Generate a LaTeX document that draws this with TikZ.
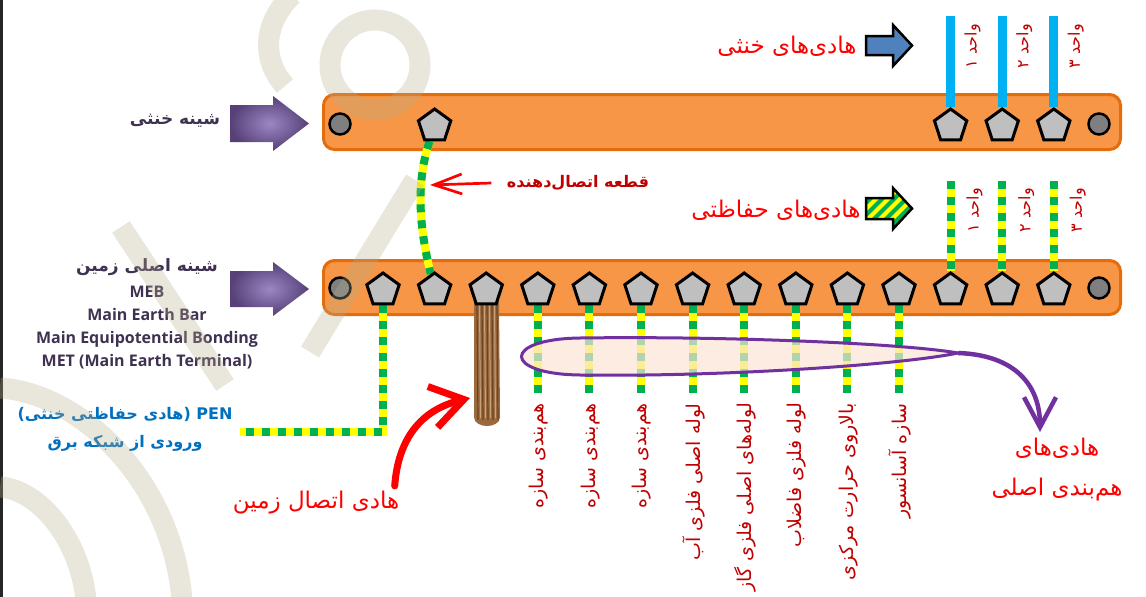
\documentclass[tikz,border=0pt]{standalone}
\usepackage{fontspec}
\setsansfont{Open Sans}
\newfontfamily\fa[Script=Arabic]{DejaVu Sans}
\TeXXeTstate=1
\usetikzlibrary{arrows.meta,shapes.geometric}

\definecolor{barfill}{HTML}{F79646}
\definecolor{barline}{HTML}{E46C0A}
\definecolor{termgray}{HTML}{BFBFBF}
\definecolor{studgray}{HTML}{7F7F7F}
\definecolor{pegreen}{HTML}{00B050}
\definecolor{peyellow}{HTML}{FFFF00}
\definecolor{nblue}{HTML}{00B0F0}
\definecolor{arrowblue}{HTML}{4F81BD}
\definecolor{darkred}{HTML}{C00000}
\definecolor{labelink}{HTML}{3F3151}
\definecolor{penblue}{HTML}{0070C0}
\definecolor{bondpurple}{HTML}{7030A0}
\definecolor{bondfill}{HTML}{FCE4D6}
\definecolor{arrowdark}{HTML}{574078}
\definecolor{arrowlight}{HTML}{9B87C4}
\definecolor{cablebrown}{HTML}{9A6A3E}
\definecolor{cabledark}{HTML}{6B4424}
\definecolor{cablelight}{HTML}{C9A27A}
\definecolor{wmcolor}{HTML}{B8AE8C}

\pgfdeclarelayer{back}
\pgfdeclarelayer{front}
\pgfsetlayers{back,main,front}

\tikzset{
  bar/.style={draw=barline,fill=barfill,line width=3pt,rounded corners=11pt},
  term/.style={regular polygon,regular polygon sides=5,draw=black,fill=termgray,
    line width=3pt,inner sep=0pt,minimum size=34pt},
  stud/.style={circle,draw=black,fill=studgray,line width=2.5pt,inner sep=0pt,minimum size=21pt},
  nwire/.style={draw=nblue,line width=9pt},
  pewire/.style={draw=peyellow,line width=8pt,
    postaction={draw=pegreen,line width=8pt,dash pattern=on 8pt off 8pt}},
  redtext/.style={text=red,font=\fa\fontsize{23}{40}\selectfont,align=center},
  barname/.style={text=labelink,font=\fa\bfseries\fontsize{17}{20}\selectfont},
  unitname/.style={rotate=90,anchor=east,inner sep=0pt,text=darkred,font=\fa\fontsize{16}{18}\selectfont},
  bondname/.style={rotate=90,anchor=east,inner sep=0pt,text=darkred,font=\fa\fontsize{19}{22}\selectfont},
  wmark/.style={draw=wmcolor,draw opacity=.3,line width=21pt},
}

\begin{document}
\begin{tikzpicture}[x=1pt,y=-1pt]
\useasboundingbox (0,0) rectangle (1146,597);

\foreach \k in {1,...,14}
  \node[term] (pe\k) at ({383+51.6*(\k-1)},290) {};
\foreach \k in {2,12,13,14}
  \node[term] (nt\k) at ({383+51.6*(\k-1)},126) {};
\node[stud] (ns1) at (340,124) {};
\node[stud] (ns2) at (1099,124) {};
\node[stud] (ps1) at (340,288) {};
\node[stud] (ps2) at (1099,288) {};

\coordinate (nwtop) at (0,16);
\coordinate (pwtop) at (0,181);
\coordinate (bondlvl) at (0,393);
\coordinate (penend) at (240,432);

\begin{pgfonlayer}{back}
  \fill[white] (0,0) rectangle (1146,597);
  \fill[black!85] (0,0) rectangle (3,597);
  \draw[bar] (323.5,94.5) rectangle (1120.5,149.5);
  \draw[bar] (323.5,260.5) rectangle (1120.5,314.5);
  \foreach \k in {12,13,14} {
    \draw[nwire] (nt\k |- nwtop) -- (nt\k);
    \draw[pewire] (pe\k |- pwtop) -- (pe\k);
  }
  \foreach \k in {4,...,11}
    \draw[pewire] (pe\k) -- (pe\k |- bondlvl);
  \draw[pewire] (pe1) |- (penend);
  \draw[pewire] (nt2) .. controls (415,185) and (420,230) .. (pe2);
  % stranded earth lead
  \fill[cablebrown] (474,302) -- (499,302) -- (500,417) .. controls (500,429) and (474,429) .. (474,417) -- cycle;
  \foreach \x in {477,482,487,492,497}
    \draw[cabledark,line width=1.2pt] (\x,304) -- (\x+1,420);
  \foreach \x in {479.5,484.5,489.5,494.5}
    \draw[cablelight,line width=1pt] (\x,304) -- (\x+1,418);
\end{pgfonlayer}

% bonding group
\draw[bondpurple,line width=3pt,fill=bondfill,fill opacity=.7]
  (958,353) .. controls (900,343) and (720,336) .. (580,338)
  .. controls (502,339) and (502,374) .. (580,375)
  .. controls (720,377) and (900,365) .. (958,353);
\coordinate (bondtail) at (958,353);
\coordinate (bondtip) at (1040,432);
\draw[bondpurple,line width=4.5pt,-{Straight Barb[length=30pt,width=32pt]}]
  (bondtail) .. controls (1015,355) and (1040,385) .. (bondtip);
\node[redtext] (bondhead) at (1057,470) {\beginR هادی^^^^200cهای\endR\\\beginR هم^^^^200cبندی اصلی\endR};

% bar arrows
\shade[inner color=arrowlight,outer color=arrowdark]
  (230,105) -- (273,105) -- (273,96) -- (309,123.5) -- (273,151) -- (273,142) -- (230,142) -- cycle;
\shade[inner color=arrowlight,outer color=arrowdark]
  (230,271) -- (273,271) -- (273,262) -- (309,289) -- (273,316) -- (273,307) -- (230,307) -- cycle;
\node[barname] (neutname) at (175,121) {\beginR شینه خنثی\endR};
\node[barname] (mebname) at (147,267) {\beginR شینه اصلی زمین\endR};
\node[text=labelink,font=\sffamily\bfseries\fontsize{16}{23}\selectfont,align=center] (mebterms) at (147,328)
  {MEB\\Main Earth Bar\\Main Equipotential Bonding\\MET (Main Earth Terminal)};
\node[text=penblue,font=\fa\bfseries\fontsize{16}{28}\selectfont,align=center] (penname) at (125,429)
  {\beginR\beginL PEN\endL{} (هادی حفاظتی خنثی)\endR\\\beginR ورودی از شبکه برق\endR};

% outgoing conductors
\draw[line width=2.5pt,fill=arrowblue]
  (866,36) -- (893,36) -- (893,25) -- (912,45.5) -- (893,66) -- (893,55) -- (866,55) -- cycle;
\draw[line width=2.5pt,fill=pegreen,path picture={
    \foreach \s in {0,...,7} \draw[peyellow,line width=4pt] ({840+12*\s},235) -- ++(50,-50);}]
  (866,198) -- (893,198) -- (893,188) -- (912,208.5) -- (893,229) -- (893,219) -- (866,219) -- cycle;
\node[redtext] (nname) at (787,46) {\beginR هادی^^^^200cهای خنثی\endR};
\node[redtext] (pname) at (776,210) {\beginR هادی^^^^200cهای حفاظتی\endR};
\foreach \k/\d in {12/۱,13/۲,14/۳} {
  \node[unitname] (nu\k) at ({383+51.6*(\k-1)+22},24) {\beginR واحد \d\endR};
  \node[unitname] (pu\k) at ({383+51.6*(\k-1)+24},188) {\beginR واحد \d\endR};
}

\node[text=darkred,font=\fa\bfseries\fontsize{16}{20}\selectfont] (joinlabel) at (578,183)
  {\beginR قطعه اتصال^^^^200cدهنده\endR};
\coordinate (jointip) at (430,185);
\draw[red,line width=2.7pt,-{Straight Barb[length=28pt,width=20pt]}] ([xshift=-12pt]joinlabel.west) -- (jointip);

\node[redtext] (earthlabel) at (316,503) {\beginR هادی اتصال زمین\endR};
\coordinate (earthtip) at (470,398);
\draw[red,line width=7pt,line cap=round,-{Straight Barb[length=32pt,width=42pt]}]
  ([xshift=-8pt,yshift=2pt]earthlabel.north east) .. controls (398,440) and (420,410) .. (earthtip);

\foreach \k/\txt in {4/{هم^^^^200cبندی سازه},5/{هم^^^^200cبندی سازه},6/{هم^^^^200cبندی سازه},
    7/{لوله اصلی فلزی آب},8/{لوله^^^^200cهای اصلی فلزی گاز},9/{لوله فلزی فاضلاب},
    10/{بالاروی حرارت مرکزی},11/{سازه آسانسور}}
  \node[bondname] (bn\k) at ({383+51.6*(\k-1)+1},403) {\beginR\txt\endR};

\begin{pgfonlayer}{front}
  \draw[wmark] (292,-5) .. controls (262,25) and (262,60) .. (285,86);
  \draw[wmark] (375,65) circle [radius=45];
  \draw[wmark] (121,227) -- (225,385);
  \draw[wmark] (415,180) -- (310,352);
  \draw[wmark] (0,388) .. controls (80,393) and (172,480) .. (182,600);
  \draw[wmark] (0,487) .. controls (40,490) and (80,540) .. (86,600);
\end{pgfonlayer}
\end{tikzpicture}
\end{document}
